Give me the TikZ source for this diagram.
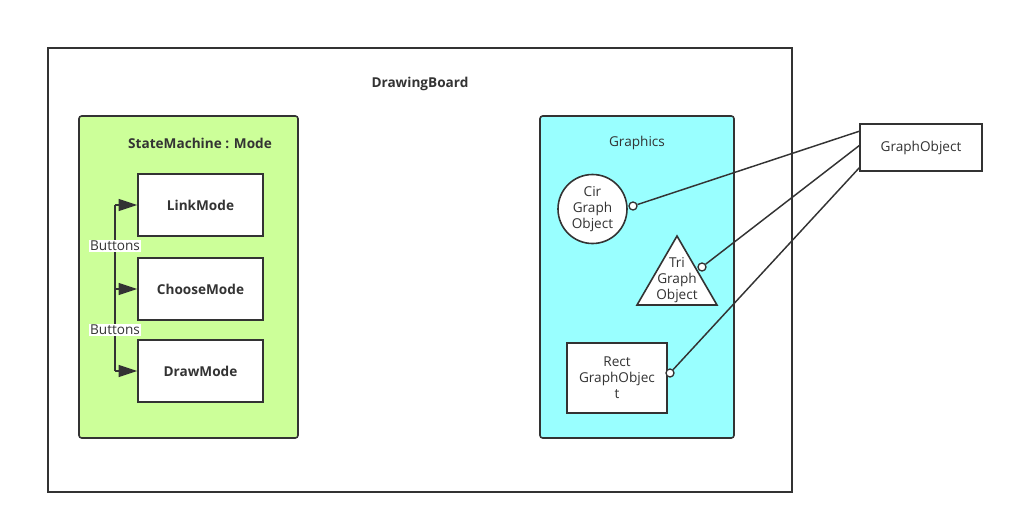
\documentclass[tikz,border=0pt]{standalone}
\usepackage{fontspec}
\setmainfont{Open Sans}
\usetikzlibrary{arrows.meta}

\definecolor{linegray}{HTML}{333333}
\definecolor{modegreen}{HTML}{CCFF99}
\definecolor{graphcyan}{HTML}{99FFFF}

\tikzset{
  box/.style={draw=linegray, line width=1.2pt, fill=white, inner sep=0pt},
  pane/.style={draw=linegray, line width=1.2pt, rounded corners=2pt},
  boldtxt/.style={font=\fontsize{10.2}{12}\selectfont\bfseries},
  modebox/.style={box, minimum width=93.75pt, minimum height=46.5pt, text=linegray, boldtxt},
  txt/.style={text=linegray, align=center, font=\fontsize{10.2}{12}\selectfont},
  port/.style={circle, draw=linegray, line width=1pt, fill=white, inner sep=0pt, minimum size=6pt},
  link/.style={draw=linegray, line width=1.1pt},
  switch/.style={draw=linegray, line width=1.1pt, -{Triangle[length=14pt,width=9pt]}},
}

\begin{document}
\begin{tikzpicture}[x=0.75pt,y=0.75pt,yscale=-1]
\useasboundingbox (0,0) rectangle (1014,525);

%Shape: DrawingBoard
\draw [draw=linegray, line width=1.2pt] (48,48) rectangle (792,492);
\node [txt, boldtxt] (board) at (420,84) {DrawingBoard};

%Shape: StateMachine
\draw [pane, fill=modegreen] (79,116) rectangle (298,438);
\node [txt, boldtxt] (machine) at (200,143) {StateMachine : Mode};

%Shape: Modes
\node [modebox] (link) at (200.5,205) {LinkMode};
\node [modebox] (choose) at (200.5,289) {ChooseMode};
\node [modebox] (draw) at (200.5,371) {DrawMode};

% Buttons
\coordinate (bus) at (115,0);
\draw [switch] (bus |- link) -- (link.west);
\draw [switch] (bus |- choose) -- (choose.west);
\draw [switch] (bus |- draw) -- (draw.west);
\draw [link] (bus |- link) -- (bus |- draw);
\node [txt, fill=white, inner sep=0.5pt] (btnA) at (115,246) {Buttons};
\node [txt, fill=white, inner sep=0.5pt] (btnB) at (115,330) {Buttons};

%Shape: Graphics
\draw [pane, fill=graphcyan] (540,116) rectangle (734,438);
\node [txt] (graphics) at (637,143) {Graphics};

%Shape: Circle
\node [box, circle, minimum size=51.75pt, txt] (cir) at (592.5,209) {Cir\\Graph\\Object};
%Shape: Triangle
\draw [box] (677,236) -- (717,305) -- (637,305) -- cycle;
\node [txt] (tri) at (677,280) {Tri\\Graph\\Object};
%Shape: Rectangle
\node [box, minimum width=75pt, minimum height=52.5pt, txt] (rect) at (617,378) {Rect\\GraphObjec\\t};

%Shape: GraphObject
\node [box, minimum width=91.5pt, minimum height=35.25pt, txt] (obj) at (921,147.5) {GraphObject};
\coordinate (objA) at (860,131);
\coordinate (objB) at (860,145);
\coordinate (objC) at (860,167);

% Links
\node [port] (cirp) at (633,206) {};
\node [port] (trip) at (702,267) {};
\node [port] (rectp) at (670,373) {};
\draw [link] (cirp) -- (objA);
\draw [link] (trip) -- (objB);
\draw [link] (rectp) -- (objC);

\end{tikzpicture}
\end{document}
